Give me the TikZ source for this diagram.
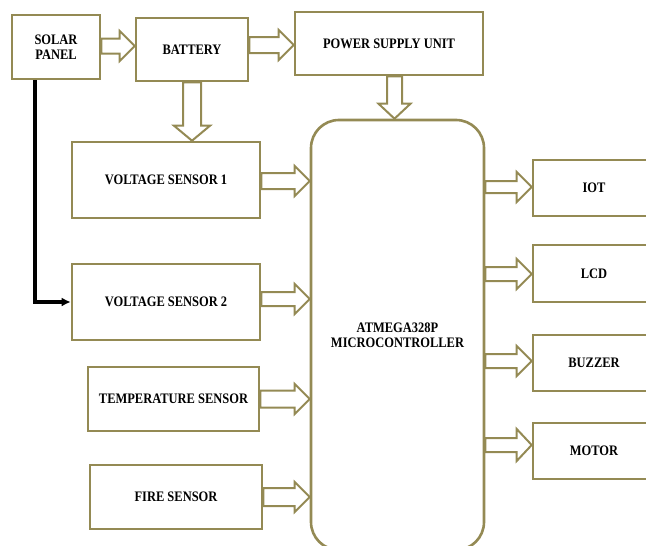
\documentclass[tikz,border=0pt]{standalone}
\usepackage{fontspec}
\setmainfont{Liberation Serif}[FakeStretch=0.86]
\usetikzlibrary{arrows.meta,calc}
\definecolor{olive}{RGB}{148,138,84}
\tikzset{
  box/.style={draw=olive,line width=2.6pt,fill=white,inner sep=0pt,align=center,
    font=\fontsize{14.5}{15.5}\selectfont\bfseries},
  blk/.style={draw=olive,line width=2pt,line join=miter},
}
% horizontal hollow arrow: #1 source node, #2 target node, #3 y, #4 shaft half width, #5 head half width
\newcommand\harr[5]{%
  \draw[blk] let \p1=(#1.east |- 0,#3), \p2=(#2.west |- 0,#3) in
    (\x1,{\y1+#4pt}) -- ({\x2-15pt},{\y1+#4pt}) -- ({\x2-15pt},{\y1+#5pt}) -- (\x2,\y1)
    -- ({\x2-15pt},{\y1-#5pt}) -- ({\x2-15pt},{\y1-#4pt}) -- (\x1,{\y1-#4pt}) -- cycle;}
% vertical hollow arrow: #1 source, #2 target, #3 x
\newcommand\varr[5]{%
  \draw[blk] let \p1=(#1.south -| #3,0), \p2=(#2.north -| #3,0) in
    ({\x1-#4pt},\y1) -- ({\x1-#4pt},{\y2+15pt}) -- ({\x1-#5pt},{\y2+15pt}) -- (\x1,\y2)
    -- ({\x1+#5pt},{\y2+15pt}) -- ({\x1+#4pt},{\y2+15pt}) -- ({\x1+#4pt},\y1) -- cycle;}
\begin{document}
\begin{tikzpicture}[x=1pt,y=-1pt]
\useasboundingbox (0,0) rectangle (646,546);
\clip (0,0) rectangle (646,546);
\node[box,minimum width=88pt,minimum height=64pt] (solar) at (56,47) {SOLAR\\PANEL};
\node[box,minimum width=112pt,minimum height=63pt] (battery) at (192,49.5) {BATTERY};
\node[box,minimum width=188pt,minimum height=63pt] (psu) at (389,43.5) {POWER SUPPLY UNIT};
\node[box,rounded corners=28pt,minimum width=173pt,minimum height=430pt] (micro) at (397.5,335) {ATMEGA328P\\MICROCONTROLLER};
\node[box,minimum width=188pt,minimum height=76pt] (vs1) at (166,180) {VOLTAGE SENSOR 1};
\node[box,minimum width=188pt,minimum height=76pt] (vs2) at (166,302) {VOLTAGE SENSOR 2};
\node[box,minimum width=171pt,minimum height=64pt] (temp) at (173.5,399) {TEMPERATURE SENSOR};
\node[box,minimum width=172pt,minimum height=64pt] (fire) at (176,497) {FIRE SENSOR};
\node[box,minimum width=122pt,minimum height=56pt] (iot) at (594,188) {IOT};
\node[box,minimum width=122pt,minimum height=57pt] (lcd) at (594,273.5) {LCD};
\node[box,minimum width=122pt,minimum height=56pt] (buzzer) at (594,363) {BUZZER};
\node[box,minimum width=122pt,minimum height=56pt] (motor) at (594,451) {MOTOR};
% block arrows
\harr{solar}{battery}{46}{7.5}{15}
\harr{battery}{psu}{45}{8}{15}
\varr{battery}{vs1}{192}{9}{18}
\varr{psu}{micro}{394.5}{7.5}{16}
\harr{vs1}{micro}{181}{8}{15}
\harr{vs2}{micro}{299}{7}{15}
\harr{temp}{micro}{399}{8.5}{15}
\harr{fire}{micro}{497}{9}{15}
\harr{micro}{iot}{187}{6}{15}
\harr{micro}{lcd}{274}{7}{15}
\harr{micro}{buzzer}{361}{7}{15}
\harr{micro}{motor}{445}{7}{16}
% solar panel to voltage sensor 2
\draw[line width=3.2pt,-{Latex[length=9pt,width=9pt]}] ([xshift=-21pt]solar.south) |- (vs2.west);
\end{tikzpicture}
\end{document}
